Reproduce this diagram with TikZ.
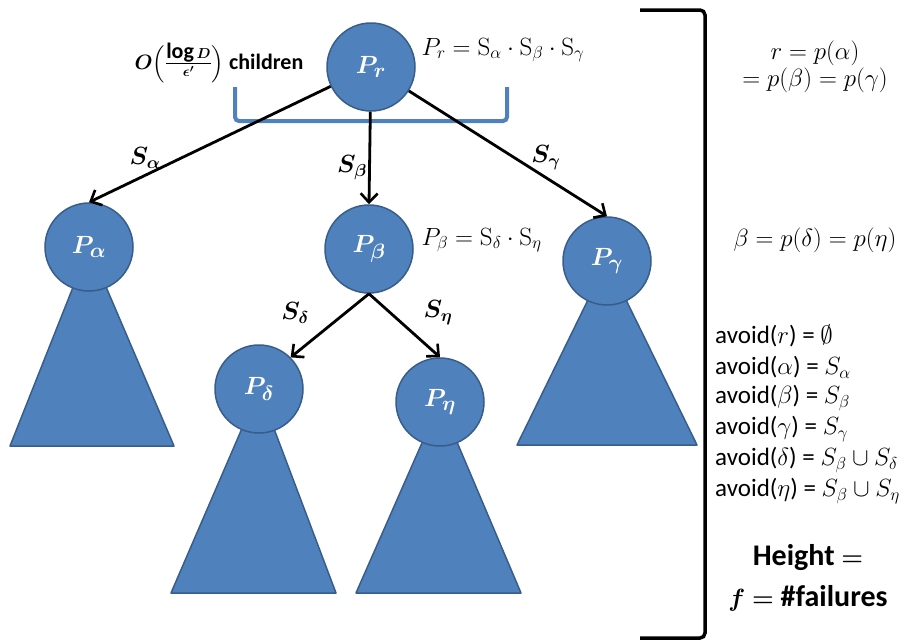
\documentclass[tikz,border=0pt]{standalone}
\usepackage{amsmath}
\usepackage{fontspec}
\newfontfamily\calibri{Carlito}
\usetikzlibrary{arrows.meta}
\definecolor{procfill}{HTML}{4F81BD}
\definecolor{procline}{HTML}{385D8A}
\newsavebox{\fanbox}
\tikzset{
  proc/.style={circle,fill=procfill,draw=procline,line width=1.5pt,
    minimum size=88pt,inner sep=0pt,text=white,
    font=\fontsize{31}{34}\selectfont\boldmath},
  subtree/.style={fill=procfill,draw=procline,line width=1.5pt,line join=round},
  link/.style={-{Straight Barb[length=9pt,width=17pt,line width=2.6pt]},line width=2.8pt},
  linklabel/.style={font=\fontsize{23}{26}\selectfont\boldmath},
  eqtext/.style={font=\fontsize{25}{27}\selectfont},
  avoidtxt/.style={font=\calibri\fontsize{25}{31}\selectfont,anchor=west,inner sep=0pt},
}
\begin{document}
\sbox{\fanbox}{\calibri\fontsize{22}{24}\selectfont\bfseries\boldmath
  $O\Bigl(\frac{\mbox{\calibri\bfseries log}\,D}{\epsilon^{\prime}}\Bigr)$ children}
\begin{tikzpicture}[x=1pt,y=-1pt]
\useasboundingbox (0,0) rectangle (905,641);

% sub-trees below the leaves
\draw[subtree] (89,247)--(10,446)--(174,446)--cycle;
\draw[subtree] (607,261)--(517,445)--(697,445)--cycle;
\draw[subtree] (259,389)--(171,593)--(336,593)--cycle;
\draw[subtree] (440,402)--(356,593)--(521,593)--cycle;

% processes
\node[proc] (pr) at (371,67) {$P_r$};
\node[proc] (pa) at (89,247) {$P_\alpha$};
\node[proc] (pb) at (369,249) {$P_\beta$};
\node[proc] (pg) at (607,261) {$P_\gamma$};
\node[proc] (pd) at (259,389) {$P_\delta$};
\node[proc] (pe) at (440,402) {$P_\eta$};

% children bracket
\draw[procfill,line width=4pt,rounded corners=4pt] (235,87)--(235,121)--(507,121)--(507,87);

% links
\draw[link] (pr) -- (pa.north);
\draw[link] (pr) -- (pb.north);
\draw[link] (pr) -- (pg.north);
\draw[link] (pb.south) -- (pd.north east);
\draw[link] (pb.south) -- (pe.north);

\node[linklabel] (sa) at (145,158) {$S_\alpha$};
\node[linklabel] (sb) at (352,168) {$S_\beta$};
\node[linklabel] (sg) at (546,158) {$S_\gamma$};
\node[linklabel] (sd) at (295,313) {$S_\delta$};
\node[linklabel] (se) at (438,313) {$S_\eta$};

% texts next to the nodes
\node (fan) at (219,63) {\usebox{\fanbox}};
\node[eqtext,anchor=west] (prdef) at (418,50) {$P_r=\mathrm{S}_\alpha\cdot \mathrm{S}_\beta\cdot \mathrm{S}_\gamma$};
\node[eqtext,anchor=west] (pbdef) at (418,240) {$P_\beta=\mathrm{S}_\delta\cdot \mathrm{S}_\eta$};

% right bracket
\draw[line width=3.5pt,rounded corners=5pt] (640,10)--(705,10)--(705,638)--(640,638);

% parents
\node[eqtext,align=center,inner sep=0pt] (par1) at (815,67) {$r=p(\alpha)$\\$=p(\beta)=p(\gamma)$};
\node[eqtext] (par2) at (815,240) {$\beta=p(\delta)=p(\eta)$};

% avoid sets
\node[avoidtxt] (av1) at (715,336) {avoid($r$) = $\emptyset$};
\node[avoidtxt] (av2) at (715,367) {avoid($\alpha$) = $S_\alpha$};
\node[avoidtxt] (av3) at (715,398) {avoid($\beta$) = $S_\beta$};
\node[avoidtxt] (av4) at (715,429) {avoid($\gamma$) = $S_\gamma$};
\node[avoidtxt] (av5) at (715,460) {avoid($\delta$) = $S_\beta\cup S_\delta$};
\node[avoidtxt] (av6) at (715,491) {avoid($\eta$) = $S_\beta\cup S_\eta$};

\node[align=center,font=\calibri\fontsize{30}{41}\selectfont\bfseries\boldmath] (height) at (808,578)
  {Height $=$\\$f$ $=$ \#failures};
\end{tikzpicture}
\end{document}
